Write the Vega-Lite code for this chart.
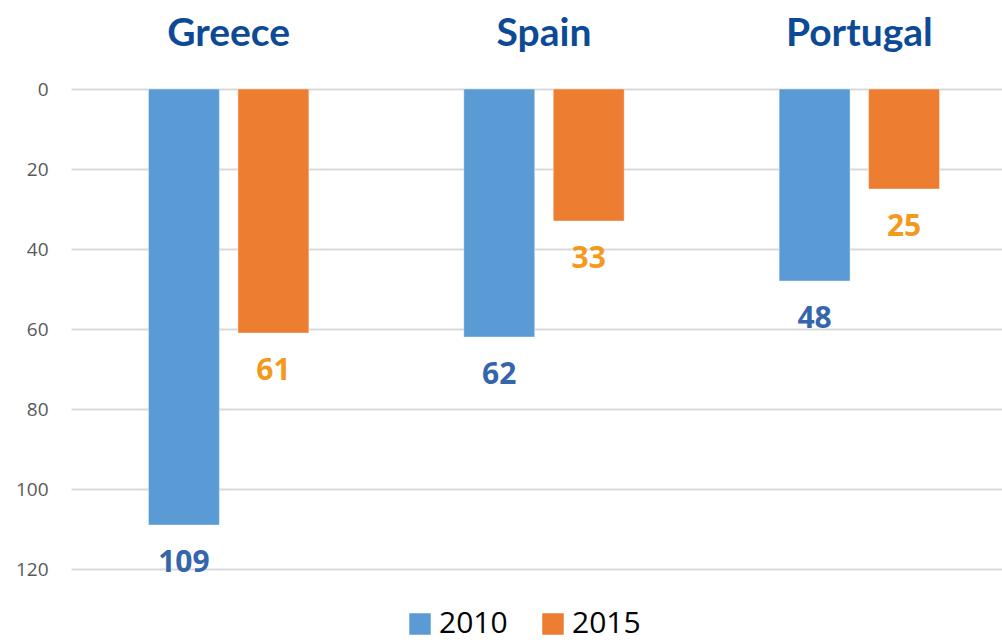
{
  "$schema": "https://vega.github.io/schema/vega-lite/v6.json",
  "autosize": {"type": "none"},
  "width": 930,
  "height": 480,
  "padding": {"left": 71, "top": 89, "right": 1, "bottom": 74},
  "background": "white",
  "config": {"view": {"stroke": null}, "font": "Lato"},
  "data": {"values": [
    {"country": "Greece", "year": "2010", "value": 109},
    {"country": "Greece", "year": "2015", "value": 61},
    {"country": "Spain", "year": "2010", "value": 62},
    {"country": "Spain", "year": "2015", "value": 33},
    {"country": "Portugal", "year": "2010", "value": 48},
    {"country": "Portugal", "year": "2015", "value": 25}
  ]},
  "encoding": {
    "x": {"field": "country", "type": "nominal", "sort": ["Greece", "Spain", "Portugal"],
      "scale": {"range": [0, 946], "paddingInner": 0, "paddingOuter": 0},
      "axis": {"orient": "top", "title": null, "ticks": false, "domain": false, "labelAngle": 0,
        "labelFont": "Lato", "labelFontSize": 39, "labelFontWeight": "bold", "labelColor": "#0C4A95", "labelPadding": 36}},
    "xOffset": {"field": "year", "type": "nominal", "scale": {"paddingInner": 0.207, "paddingOuter": 0.866}},
    "y": {"field": "value", "type": "quantitative", "scale": {"domain": [0, 120], "reverse": true, "nice": false},
      "axis": {"title": null, "values": [0, 20, 40, 60, 80, 100, 120], "ticks": false, "domain": false,
        "labelFont": "Open Sans", "labelFontSize": 19, "labelColor": "#595959", "labelPadding": 23,
        "gridColor": "#D9D9D9", "gridWidth": 2}}
  },
  "layer": [
    {"mark": {"type": "bar", "stroke": "white", "strokeOpacity": 0.4, "strokeWidth": 1},
      "encoding": {"color": {"field": "year", "type": "nominal",
        "scale": {"domain": ["2010", "2015"], "range": ["#5B9BD5", "#ED7D31"]},
        "legend": {"orient": "none", "legendX": 334, "legendY": 520, "direction": "horizontal", "title": null,
          "symbolType": "square", "symbolSize": 462, "symbolStrokeWidth": 0, "symbolOpacity": 1,
          "labelFont": "Open Sans", "labelFontSize": 30, "labelColor": "#000000", "columnPadding": 30, "labelOffset": 4}}}},
    {"mark": {"type": "text", "baseline": "middle", "dy": 38, "fontSize": 30, "fontWeight": "bold", "font": "Open Sans"},
      "encoding": {"text": {"field": "value", "type": "quantitative"},
        "fill": {"field": "year", "type": "nominal", "scale": {"domain": ["2010", "2015"], "range": ["#3565AB", "#F39A1E"]}, "legend": null}}}
  ]
}
